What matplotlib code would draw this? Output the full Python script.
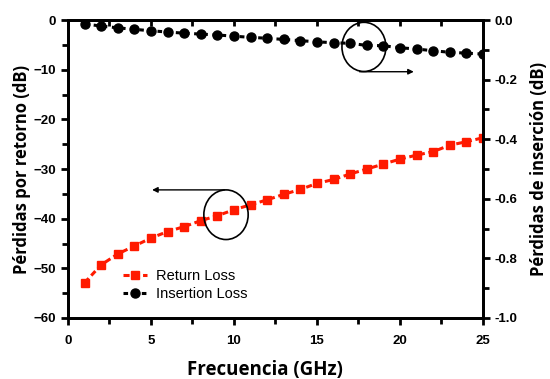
import matplotlib.pyplot as plt
from matplotlib.patches import Ellipse

freq = list(range(1, 26))
return_loss = [-52.9, -49.3, -47.1, -45.5, -43.9, -42.6, -41.6, -40.4, -39.4, -38.2,
               -37.2, -36.2, -35.1, -34.1, -32.9, -32.1, -31.0, -30.0, -29.0, -28.0,
               -27.2, -26.5, -25.2, -24.5, -23.7]
insertion_loss = [-0.013, -0.020, -0.026, -0.031, -0.036, -0.040, -0.044, -0.047, -0.050, -0.054,
                  -0.058, -0.061, -0.065, -0.069, -0.073, -0.076, -0.078, -0.085, -0.086, -0.093,
                  -0.097, -0.103, -0.108, -0.111, -0.114]

tick_font = {'family': 'Liberation Sans', 'weight': 'bold', 'size': 9.5}

fig = plt.figure(figsize=(5.5, 3.79), dpi=100)
ax1 = fig.add_axes([0.1236, 0.161, 0.7545, 0.786])
ax2 = ax1.twinx()

l1, = ax1.plot(freq, return_loss, color='#ff1a00', ls='--', lw=2.2, marker='s', ms=5.5,
               dashes=(2, 1.2), label='Return Loss')
l2, = ax2.plot(freq, insertion_loss, color='black', ls='--', lw=2.2, marker='o', ms=6.5,
               dashes=(1.5, 1.5), label='Insertion Loss')

ax1.set_xlim(0, 25)
ax1.set_ylim(-60, 0)
ax2.set_ylim(-1.0, 0.0)
ax1.set_xticks([0, 5, 10, 15, 20, 25])
ax1.set_xticks([2.5, 7.5, 12.5, 17.5, 22.5], minor=True)
ax1.set_yticks(range(-60, 1, 10))
ax1.set_yticks(range(-55, 0, 10), minor=True)
ax2.set_yticks([-1.0, -0.8, -0.6, -0.4, -0.2, 0.0])
ax2.set_yticks([-0.9, -0.7, -0.5, -0.3, -0.1], minor=True)
ax2.set_yticklabels(['-1.0', '-0.8', '-0.6', '-0.4', '-0.2', '0.0'])

for ax in (ax1, ax2):
    for s in ax.spines.values():
        s.set_linewidth(2)
    ax.tick_params(which='both', direction='out', width=2)
    ax.tick_params(which='major', length=5)
    ax.tick_params(which='minor', length=4)
    for lab in ax.get_xticklabels() + ax.get_yticklabels():
        lab.set_fontproperties(tick_font)
ax1.tick_params(axis='x', which='major', pad=7)

top = ax1.secondary_xaxis('top')
top.set_xticks([0, 5, 10, 15, 20, 25])
top.set_xticks([2.5, 7.5, 12.5, 17.5, 22.5], minor=True)
top.tick_params(which='both', direction='in', width=2, length=4, labeltop=False)
top.spines['top'].set_linewidth(2)

ax1.set_xlabel('Frecuencia (GHz)', family='Open Sans', weight='bold', fontsize=13.5, labelpad=9)
ax1.xaxis.set_label_coords(0.475, -0.14)
ax1.set_ylabel('Pérdidas por retorno (dB)', family='Open Sans', weight='bold', fontsize=12, labelpad=2)
ax2.set_ylabel('Pérdidas de inserción (dB)', family='Open Sans', weight='bold', fontsize=12,
               rotation=90, labelpad=9)

# annotation circles and arrows
ax1.add_patch(Ellipse((17.83, -5.4), 2.65, 9.9, fill=False, color='black', lw=1.2, zorder=5))
ax1.annotate('', xy=(21.0, -10.4), xytext=(17.4, -10.4),
             arrowprops=dict(arrowstyle='-|>', color='black', lw=1.0, mutation_scale=8))
ax1.add_patch(Ellipse((9.52, -39.2), 2.67, 10.0, fill=False, color='black', lw=1.2, zorder=5))
ax1.annotate('', xy=(4.9, -34.2), xytext=(9.6, -34.2),
             arrowprops=dict(arrowstyle='-|>', color='black', lw=1.0, mutation_scale=8))

ax1.legend([l1, l2], ['Return Loss', 'Insertion Loss'], loc='lower left',
           bbox_to_anchor=(0.1, 0.012), frameon=False, handlelength=1.7, handletextpad=0.6,
           labelspacing=0.3, prop={'family': 'Liberation Sans', 'size': 10.5})

fig.savefig('out.png', dpi=100)
